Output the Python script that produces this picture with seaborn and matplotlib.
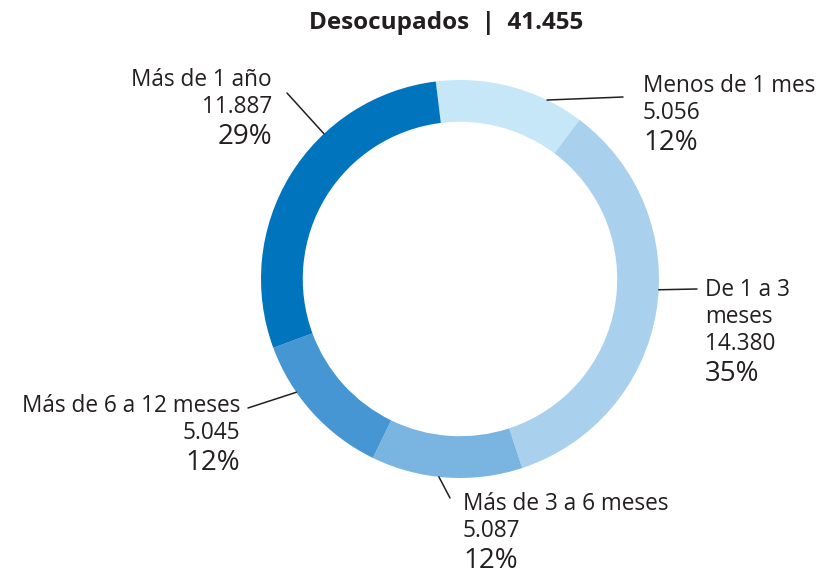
import matplotlib.pyplot as plt
import seaborn as sns
import numpy as np

# data
categories = ['Menos de 1 mes', 'De 1 a 3\nmeses', 'Más de 3 a 6 meses',
              'Más de 6 a 12 meses', 'Más de 1 año']
values = [5056, 14380, 5087, 5045, 11887]
colors = ['#c6e7f8', '#a9d1ee', '#7ab4e1', '#4596d3', '#0075be']
title = 'Desocupados  |  41.455'

sns.set_style('white')
plt.rcParams['font.family'] = ['Open Sans', 'DejaVu Sans']

W, H = 822, 571
fig = plt.figure(figsize=(W / 100, H / 100), dpi=100)

# ring centre / radius in pixels
cx, cy, r = 460, 279, 199
ax = fig.add_axes([(cx - r) / W, (H - cy - r) / H, 2 * r / W, 2 * r / H])
wedges, _ = ax.pie(values, colors=colors, startangle=97, counterclock=False,
                   wedgeprops=dict(width=0.21, edgecolor='none'))
ax.set_xlim(-1, 1)
ax.set_ylim(-1, 1)
ax.axis('off')

fig.text(446 / W, 1 - 29 / H, title, ha='center', va='baseline',
         fontsize=17.5, fontweight='bold', color='#231f20')

# label layout: anchor x, first baseline y, alignment, leader end (px), position in wedge
layout = [
    (643, 92, 'left', (623, 97), 0.75),
    (705, 296, 'left', (697, 289), 0.45),
    (463, 510, 'left', (450, 498), 0.55),
    (240, 412, 'right', (248, 408), 0.67),
    (272, 86, 'right', (287, 93), 0.65),
]

total = sum(values)
for w, name, val, (x, y, ha, lend, frac) in zip(wedges, categories, values, layout):
    lines = name.split('\n') + [f'{val:,}'.replace(',', '.')]
    for i, line in enumerate(lines):
        fig.text(x / W, 1 - (y + 27 * i) / H, line, ha=ha, va='baseline',
                 fontsize=16.3, color='#231f20')
    pct_y = y + 27 * (len(lines) - 1) + 31
    fig.text(x / W, 1 - pct_y / H, f'{round(100 * val / total)}%', ha=ha,
             va='baseline', fontsize=20, color='#231f20')
    # clockwise pie: wedge starts at theta2
    ang = np.deg2rad(w.theta2 - frac * (w.theta2 - w.theta1))
    ax.annotate('', xy=(np.cos(ang), np.sin(ang)), xycoords='data',
                xytext=(lend[0] / W, 1 - lend[1] / H), textcoords='figure fraction',
                arrowprops=dict(arrowstyle='-', color='#231f20', lw=1.1,
                                shrinkA=0, shrinkB=0))

fig.savefig('out.png', dpi=100, facecolor='white')
